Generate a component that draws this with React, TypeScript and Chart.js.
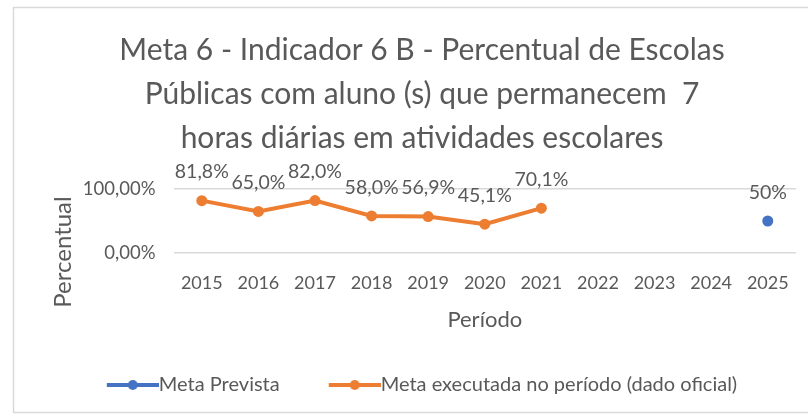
import React, { useEffect, useRef } from "react";
import { Chart, registerables } from "chart.js";

Chart.register(...registerables);

const categories = ["2015", "2016", "2017", "2018", "2019", "2020", "2021", "2022", "2023", "2024", "2025"];
const metaPrevista = [null, null, null, null, null, null, null, null, null, null, 50];
const metaExecutada = [81.8, 65.0, 82.0, 58.0, 56.9, 45.1, 70.1, null, null, null, null];
const previstaLabels = ["", "", "", "", "", "", "", "", "", "", "50%"];
const executadaLabels = ["81,8%", "65,0%", "82,0%", "58,0%", "56,9%", "45,1%", "70,1%", "", "", "", ""];
const yTickLabels: Record<number, string> = { 0: "0,00%", 100: "100,00%" };

const FONT = "Lato";
const TEXT = "#595959";
const BLUE = "#4472C4";
const ORANGE = "#ED7D31";

function legendSample(color: string): HTMLCanvasElement {
  const c = document.createElement("canvas");
  c.width = 62;
  c.height = 14;
  const ctx = c.getContext("2d")!;
  ctx.strokeStyle = color;
  ctx.lineWidth = 4;
  ctx.beginPath();
  ctx.moveTo(10, 7);
  ctx.lineTo(62, 7);
  ctx.stroke();
  ctx.fillStyle = color;
  ctx.beginPath();
  ctx.arc(36, 7, 5, 0, Math.PI * 2);
  ctx.fill();
  return c;
}

export default function App() {
  const ref = useRef<HTMLCanvasElement>(null);
  useEffect(() => {
    const canvas = ref.current!;
    const samples = [legendSample(BLUE), legendSample(ORANGE)];
    const labelSets = [previstaLabels, executadaLabels];

    const framePlugin = {
      id: "frame",
      beforeDraw(chart: any) {
        const ctx = chart.ctx;
        ctx.save();
        ctx.fillStyle = "#ffffff";
        ctx.fillRect(0, 0, chart.width, chart.height);
        ctx.strokeStyle = "#d9d9d9";
        ctx.lineWidth = 1.5;
        ctx.strokeRect(13.5, 7.5, 820, 405);
        ctx.restore();
      },
    };

    const dataLabelPlugin = {
      id: "dataLabels",
      afterDatasetsDraw(chart: any) {
        const ctx = chart.ctx;
        ctx.save();
        ctx.font = `19.5px ${FONT}`;
        ctx.fillStyle = TEXT;
        ctx.textAlign = "center";
        ctx.textBaseline = "middle";
        chart.data.datasets.forEach((ds: any, di: number) => {
          const meta = chart.getDatasetMeta(di);
          meta.data.forEach((pt: any, i: number) => {
            if (ds.data[i] === null) return;
            ctx.fillText(labelSets[di][i], pt.x, pt.y - 28.5);
          });
        });
        // y axis title
        ctx.font = `24px ${FONT}`;
        ctx.translate(63, 252);
        ctx.rotate(-Math.PI / 2);
        ctx.fillText("Percentual", 0, 0);
        ctx.restore();
      },
    };

    const chart = new Chart(canvas, {
      type: "line",
      data: {
        labels: categories,
        datasets: [
          {
            label: "Meta Prevista",
            data: metaPrevista,
            borderColor: BLUE,
            backgroundColor: BLUE,
            borderWidth: 4,
            pointRadius: 5.5,
            pointBorderWidth: 0,
            pointBackgroundColor: BLUE,
          },
          {
            label: "Meta executada no período (dado oficial)",
            data: metaExecutada,
            borderColor: ORANGE,
            backgroundColor: ORANGE,
            borderWidth: 4,
            pointRadius: 5.5,
            pointBorderWidth: 0,
            pointBackgroundColor: ORANGE,
          },
        ],
      },
      options: {
        animation: false,
        responsive: false,
        layout: { padding: { left: 44, right: 8, top: 0, bottom: 12 } },
        plugins: {
          title: {
            display: true,
            text: [
              "Meta 6 - Indicador 6 B - Percentual de Escolas",
              "Públicas com aluno (s) que permanecem  7",
              "horas diárias em atividades escolares",
            ],
            color: TEXT,
            font: { family: FONT, size: 30, weight: "normal", lineHeight: 44 / 30 },
            padding: { top: 28, bottom: 29 },
          },
          legend: {
            position: "bottom",
            labels: {
              usePointStyle: true,
              pointStyleWidth: 42,
              padding: 49,
              color: TEXT,
              font: { family: FONT, size: 20 },
              generateLabels(chart: any) {
                const items = Chart.defaults.plugins.legend.labels.generateLabels(chart);
                return items.map((it: any, i: number) => ({ ...it, pointStyle: samples[i] }));
              },
            },
          },
          tooltip: { enabled: false },
        },
        scales: {
          x: {
            offset: true,
            grid: { display: false, drawTicks: false },
            border: { display: false },
            ticks: { color: TEXT, font: { family: FONT, size: 18 }, padding: 19, maxRotation: 0 },
            title: {
              display: true,
              text: "Período",
              color: TEXT,
              font: { family: FONT, size: 22, lineHeight: 1.2 },
              padding: { top: 0, bottom: -7 },
            },
            afterFit(scale: any) {
              scale.height = 73;
            },
          },
          y: {
            min: 0,
            max: 100,
            grid: { color: "#d9d9d9", lineWidth: 1.5, drawTicks: false },
            border: { display: false },
            ticks: {
              stepSize: 100,
              color: TEXT,
              font: { family: FONT, size: 18.5 },
              padding: 18,
              callback: (v: any) => yTickLabels[v as number] ?? "",
            },
            afterFit(scale: any) {
              scale.width = 129.5;
            },
          },
        },
      },
      plugins: [framePlugin, dataLabelPlugin],
    });
    return () => chart.destroy();
  }, []);

  return (
    <div style={{ position: "fixed", left: 0, top: 0, width: 808, height: 417 }}>
      <canvas ref={ref} width={808} height={417} />
    </div>
  );
}
